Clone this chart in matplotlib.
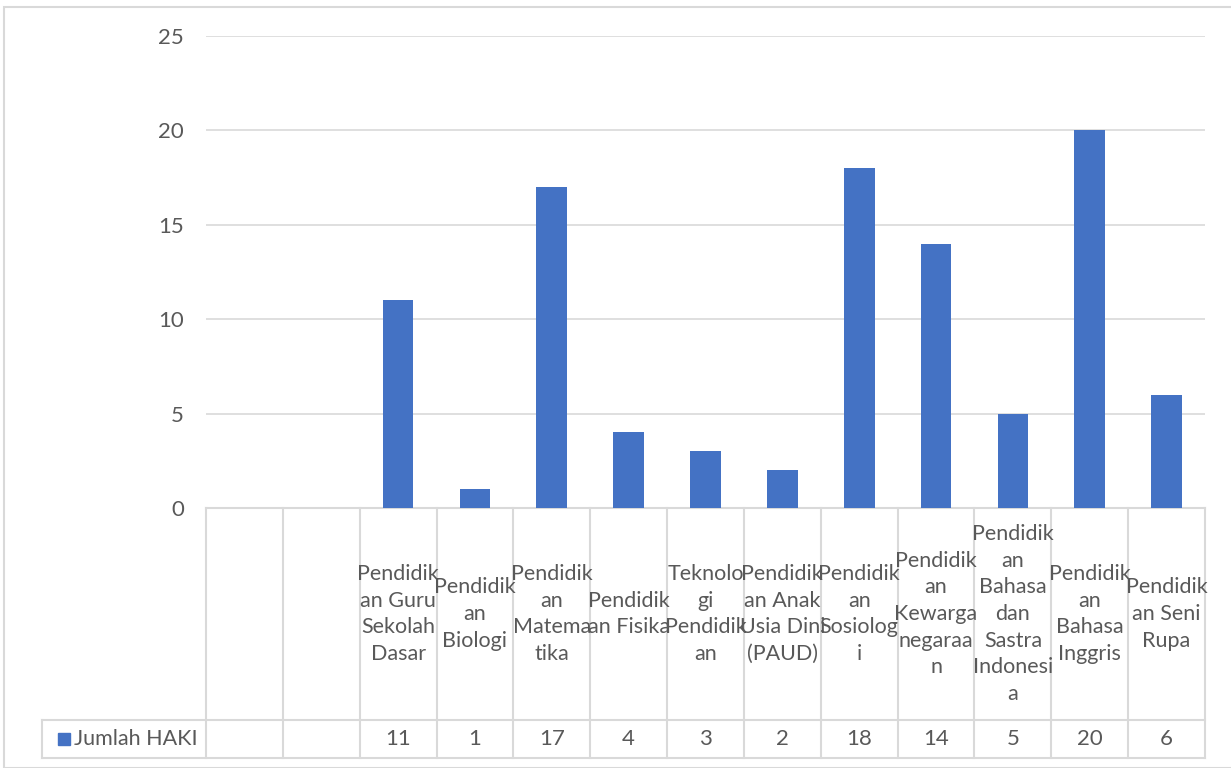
import matplotlib.pyplot as plt
from matplotlib.patches import Rectangle
from matplotlib.lines import Line2D

# kategori (dua kolom pertama kosong, seperti di sumber Excel)
categories = ['', '',
              'Pendidik\nan Guru\nSekolah\nDasar',
              'Pendidik\nan\nBiologi',
              'Pendidik\nan\nMatema\ntika',
              'Pendidik\nan Fisika',
              'Teknolo\ngi\nPendidik\nan',
              'Pendidik\nan Anak\nUsia Dini\n(PAUD)',
              'Pendidik\nan\nSosiolog\ni',
              'Pendidik\nan\nKewarga\nnegaraa\nn',
              'Pendidik\nan\nBahasa\ndan\nSastra\nIndonesi\na',
              'Pendidik\nan\nBahasa\nInggris',
              'Pendidik\nan Seni\nRupa']
jumlah_haki = [None, None, 11, 1, 17, 4, 3, 2, 18, 14, 5, 20, 6]
series_name = 'Jumlah HAKI'
y_ticks = [0, 5, 10, 15, 20, 25]

bar_color = '#4472C4'
text_color = '#595959'
line_color = '#D9D9D9'

plt.rcParams['font.family'] = ['Lato', 'DejaVu Sans']

W, H = 1231, 768
fig = plt.figure(figsize=(W / 100, H / 100), dpi=100)

# kotak luar chart
fig.patches.append(Rectangle((4 / W, 0), 1.0, 1 - 7 / H, transform=fig.transFigure,
                             fill=False, edgecolor=line_color, linewidth=1.5))

left, right, top, bottom = 206, 1205, 36, 508
ax = fig.add_axes([left / W, 1 - bottom / H, (right - left) / W, (bottom - top) / H])

n = len(categories)
xs = list(range(n))
vals = [v if v is not None else 0 for v in jumlah_haki]
ax.bar(xs, vals, width=0.4, color=bar_color, zorder=3)

ax.set_xlim(-0.5, n - 0.5)
ax.set_ylim(0, 25)
ax.set_yticks(y_ticks)
ax.tick_params(axis='y', length=0, pad=16, labelsize=16, labelcolor=text_color)
ax.set_xticks([])
ax.grid(axis='y', color=line_color, linewidth=1.2, zorder=0)
for s in ax.spines.values():
    s.set_visible(False)

# tabel data di bawah sumbu
ah = bottom - top
aw = right - left
row1 = -(720 - bottom) / ah
row2 = -(758 - bottom) / ah
leg_x = (42 - left) / aw

def hline(x0, x1, y):
    ax.add_line(Line2D([x0, x1], [y, y], transform=ax.transAxes, color=line_color,
                       linewidth=1.5, clip_on=False))

def vline(x, y0, y1):
    ax.add_line(Line2D([x, x], [y0, y1], transform=ax.transAxes, color=line_color,
                       linewidth=1.5, clip_on=False))

hline(0, 1, 0)
hline(leg_x, 1, row1)
hline(leg_x, 1, row2)
vline(leg_x, row1, row2)
for i in range(n + 1):
    vline(i / n, 0, row2)

for i in range(n):
    xc = (i + 0.5) / n
    if categories[i]:
        ax.text(xc, row1 / 2, categories[i], transform=ax.transAxes, ha='center',
                va='center', fontsize=15.5, color=text_color, linespacing=1.42)
    if jumlah_haki[i] is not None:
        ax.text(xc, (row1 + row2) / 2, str(jumlah_haki[i]), transform=ax.transAxes,
                ha='center', va='center', fontsize=16, color=text_color)

# kunci legenda di sel kiri tabel
ym = (row1 + row2) / 2
ax.add_patch(Rectangle((leg_x + 16 / aw, ym - 6 / ah), 12 / aw, 12 / ah,
                       transform=ax.transAxes, color=bar_color, clip_on=False))
ax.text(leg_x + 32 / aw, ym, series_name, transform=ax.transAxes, ha='left',
        va='center', fontsize=15.5, color=text_color)

fig.savefig('out.png', dpi=100)
